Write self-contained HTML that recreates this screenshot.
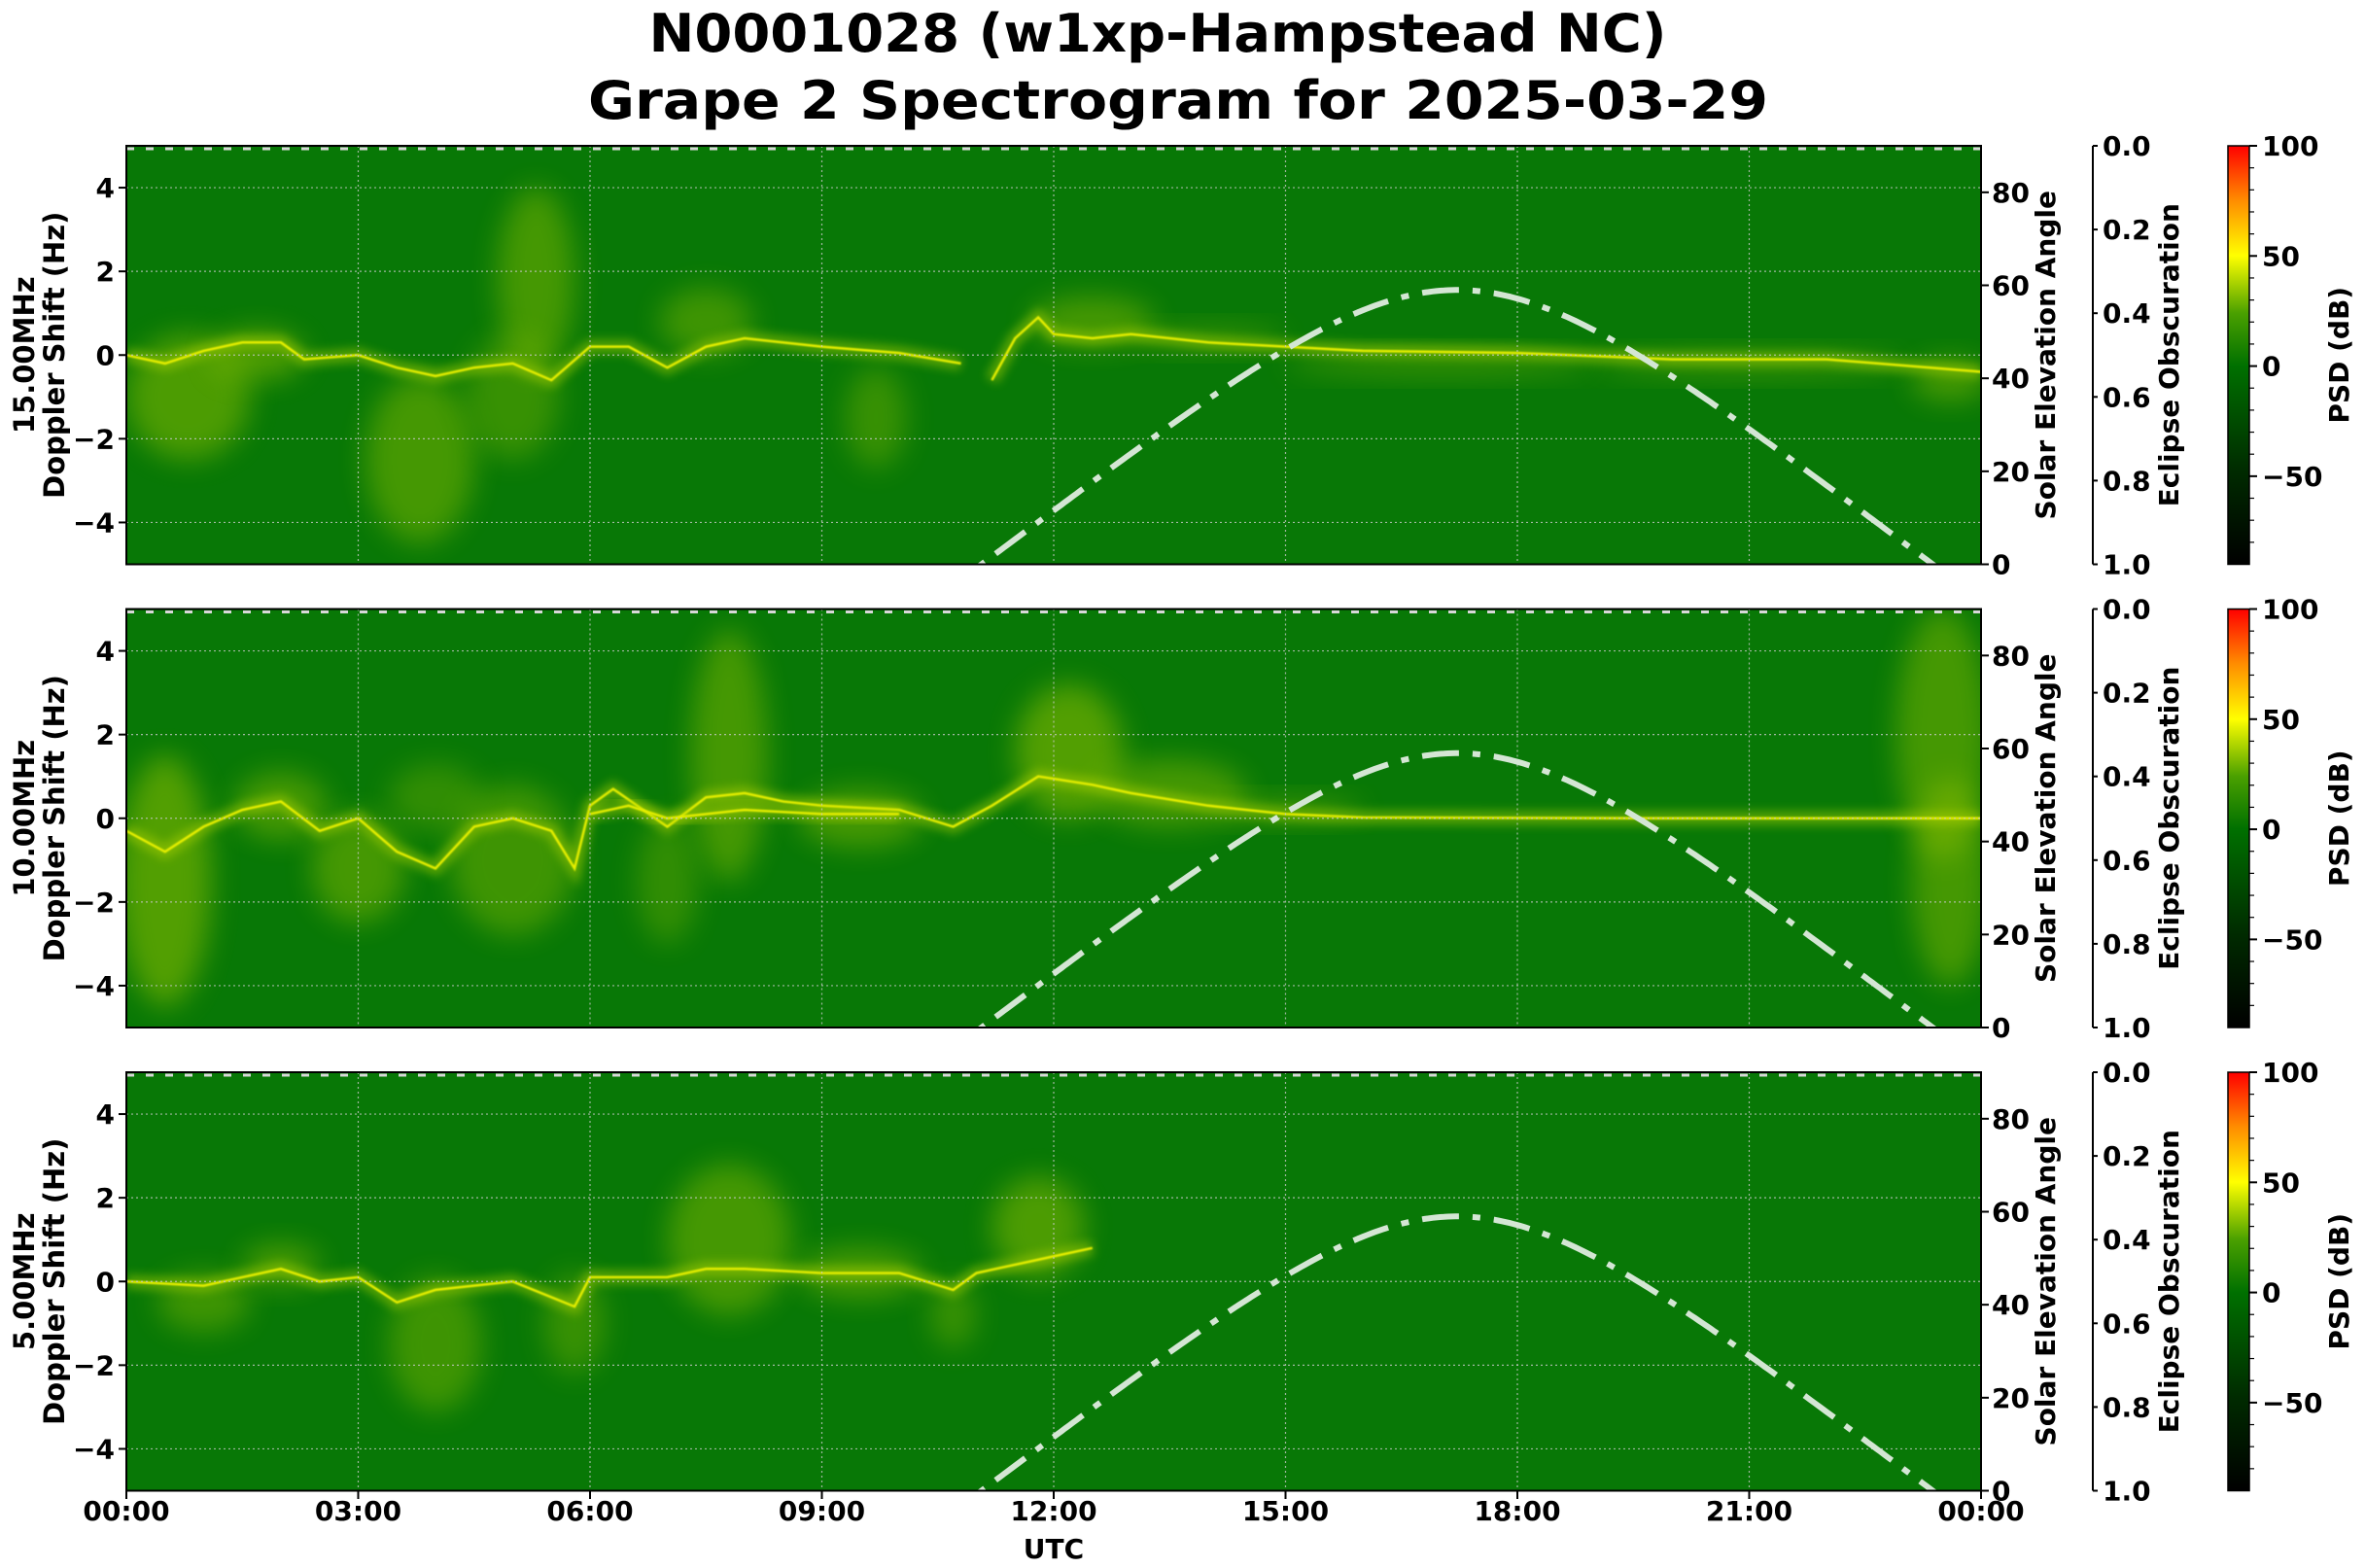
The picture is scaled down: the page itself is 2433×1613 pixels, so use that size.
<!DOCTYPE html>
<html><head><meta charset="utf-8">
<style>
html,body{margin:0;padding:0;background:#fff;}
svg{display:block;font-family:"DejaVu Sans","Liberation Sans",sans-serif;font-weight:bold;}
</style></head>
<body>
<svg id="s" width="2433" height="1613" viewBox="0 0 2433 1613" xmlns="http://www.w3.org/2000/svg">
<defs>
<filter id="b1" x="-50%" y="-50%" width="200%" height="200%"><feGaussianBlur stdDeviation="14"/></filter>
<filter id="b2" x="-50%" y="-50%" width="200%" height="200%"><feGaussianBlur stdDeviation="5"/></filter>
<filter id="b0" x="-50%" y="-50%" width="200%" height="200%"><feGaussianBlur stdDeviation="0.8"/></filter>
<linearGradient id="cb" x1="0" y1="1" x2="0" y2="0">
<stop offset="0" stop-color="#000000"/>
<stop offset="0.22" stop-color="#002a00"/>
<stop offset="0.474" stop-color="#007000"/>
<stop offset="0.6" stop-color="#4aa000"/>
<stop offset="0.737" stop-color="#ffff00"/>
<stop offset="0.87" stop-color="#ff8c00"/>
<stop offset="1" stop-color="#ff0000"/>
</linearGradient>
<clipPath id="c0"><rect x="130" y="150" width="1908" height="430"/></clipPath>
<clipPath id="c1"><rect x="130" y="626.5" width="1908" height="430.5"/></clipPath>
<clipPath id="c2"><rect x="130" y="1103" width="1908" height="431"/></clipPath>
</defs>
<text x="1191" y="53" font-size="54" text-anchor="middle" textLength="1047" lengthAdjust="spacingAndGlyphs">N0001028 (w1xp-Hampstead NC)</text>
<text x="1212" y="122" font-size="54" text-anchor="middle" textLength="1214" lengthAdjust="spacingAndGlyphs">Grape 2 Spectrogram for 2025-03-29</text>
<g id="g"></g>
<text x="1084" y="1603" font-size="28" text-anchor="middle">UTC</text>
</svg>
<script>
var NS="http://www.w3.org/2000/svg",G=document.getElementById('g');
function el(t,a,txt){var e=document.createElementNS(NS,t);for(var k in a)e.setAttribute(k,a[k]);if(txt!=null)e.textContent=txt;return e;}
var X0=130,W=1908,tops=[150,626.5,1103],H=430.5;
var names=["15.00MHz","10.00MHz","5.00MHz"];
function X(t){return X0+t*W/24;}
var traces=[
 [[[0,0],[0.5,-0.2],[1,0.1],[1.5,0.3],[2,0.3],[2.3,-0.1],[3,0],[3.5,-0.3],[4,-0.5],[4.5,-0.3],[5,-0.2],[5.5,-0.6],[6,0.2],[6.5,0.2],[7,-0.3],[7.5,0.2],[8,0.4],[9,0.2],[10,0.05],[10.8,-0.2]],
  [[11.2,-0.6],[11.5,0.4],[11.8,0.9],[12,0.5],[12.5,0.4],[13,0.5],[14,0.3],[15,0.2],[16,0.1],[18,0.05],[20,-0.1],[22,-0.1],[24,-0.4]]],
 [[[0,-0.3],[0.5,-0.8],[1,-0.2],[1.5,0.2],[2,0.4],[2.5,-0.3],[3,0],[3.5,-0.8],[4,-1.2],[4.5,-0.2],[5,0],[5.5,-0.3],[5.8,-1.2],[6,0.3],[6.3,0.7],[7,-0.2],[7.5,0.5],[8,0.6],[8.5,0.4],[9,0.3],[10,0.2],[10.7,-0.2],[11.2,0.3],[11.8,1.0],[12.5,0.8],[13,0.6],[14,0.3],[15,0.1],[16,0.02],[20,0],[24,0]],
  [[6,0.1],[6.5,0.3],[7,0],[8,0.2],[9,0.1],[10,0.1]]],
 [[[0,0],[1,-0.1],[2,0.3],[2.5,0],[3,0.1],[3.5,-0.5],[4,-0.2],[5,0],[5.8,-0.6],[6,0.1],[7,0.1],[7.5,0.3],[8,0.3],[9,0.2],[10,0.2],[10.7,-0.2],[11,0.2],[12,0.6],[12.5,0.8]]]
];
var haze=[
 [[0.8,-1,0.8,1.5,.5],[1.7,0,0.6,0.6,.5],[3.8,-2.5,0.7,2,.45],[5.3,1.8,0.5,2.2,.45],[5,-1,0.6,1.5,.35],[7.5,0.8,0.6,0.8,.4],[9.7,-1.5,0.4,1.2,.35],[12.5,0.8,0.8,0.6,.45],[14,0.4,1,0.3,.3],[17,-0.2,2,0.3,.35],[21,-0.2,2,0.3,.35],[23.6,-0.6,0.5,0.5,.45]],
 [[0.5,-1.5,0.6,3,.55],[2,0.3,0.6,0.8,.45],[3,-1.2,0.6,1.3,.45],[5,-1,0.8,1.8,.4],[7.8,1.5,0.5,3,.45],[7,-1.5,0.4,1.5,.3],[9.5,0,0.8,0.7,.45],[12.2,1.6,0.7,1.6,.55],[13.5,0.6,1,0.8,.45],[15,0.2,1,0.3,.35],[23.5,2,0.6,3,.45],[23.6,-1.5,0.5,2.5,.45],[4,0.5,0.6,0.8,.3]],
 [[1,-0.5,0.6,0.7,.4],[2,0.4,0.5,0.5,.45],[4,-1.5,0.6,1.6,.4],[5.8,-1,0.4,1.2,.35],[7.8,1,0.8,1.8,.45],[9.5,0.2,0.8,0.6,.45],[11.8,1.3,0.6,1.2,.5],[10.7,-0.8,0.3,0.8,.35]]
];
for(var p=0;p<3;p++){
 var T=tops[p],B=T+H,Y=function(f){return T+(5-f)*H/10;};
 var g=el('g',{'clip-path':'url(#c'+p+')'});G.appendChild(g);
 g.appendChild(el('rect',{x:X0,y:T,width:W,height:H,fill:'#087806'}));
 haze[p].forEach(function(h){g.appendChild(el('ellipse',{cx:X(h[0]),cy:Y(h[1]),rx:h[2]*W/24,ry:h[3]*H/10,fill:'#8fc000',opacity:h[4],filter:'url(#b1)'}));});
 traces[p].forEach(function(tr){
  var d=tr.map(function(q,i){return (i?'L':'M')+X(q[0]).toFixed(1)+' '+Y(q[1]).toFixed(1);}).join(' ');
  g.appendChild(el('path',{d:d,fill:'none',stroke:'#b8d800',"stroke-width":14,opacity:.45,filter:'url(#b2)'}));
  g.appendChild(el('path',{d:d,fill:'none',stroke:'#e8f000',"stroke-width":2.5,filter:'url(#b0)'}));
 });
 for(var t=3;t<24;t+=3)g.appendChild(el('line',{x1:X(t),x2:X(t),y1:T,y2:B,stroke:'#c8c8c8','stroke-width':1.2,'stroke-dasharray':'2 3',opacity:.8}));
 for(var f=-4;f<=4;f+=2)g.appendChild(el('line',{x1:X0,x2:X0+W,y1:Y(f),y2:Y(f),stroke:'#c8c8c8','stroke-width':1.2,'stroke-dasharray':'2 3',opacity:.8}));
 g.appendChild(el('line',{x1:X0,x2:X0+W,y1:T+3,y2:T+3,stroke:'#d8d8d8','stroke-width':3,'stroke-dasharray':'8 12'}));
 var pts=[];
 for(var t=10.5;t<=24.2;t+=0.05){var Hh=(t-17.22)*15*Math.PI/180;var s=0.0335+0.8236*Math.cos(Hh);var e=Math.asin(s)*180/Math.PI;pts.push(X(t).toFixed(1)+','+(B-e*H/90).toFixed(1));}
 g.appendChild(el('polyline',{points:pts.join(' '),fill:'none',stroke:'#d4e6d4','stroke-width':6,'stroke-dasharray':'38 14 8 14'}));
 G.appendChild(el('rect',{x:X0,y:T,width:W,height:H,fill:'none',stroke:'#000','stroke-width':2}));
 for(var f=-4;f<=4;f+=2){var yy=Y(f);G.appendChild(el('line',{x1:X0-8,x2:X0,y1:yy,y2:yy,stroke:'#000','stroke-width':2}));
  G.appendChild(el('text',{x:118,y:yy+10,'font-size':28,'text-anchor':'end'},f<0?'\u2212'+(-f):''+f));}
 var cy=T+H/2;
 G.appendChild(el('text',{x:0,y:0,'font-size':29,'text-anchor':'middle',transform:'translate(35,'+cy+') rotate(-90)'},names[p]));
 G.appendChild(el('text',{x:0,y:0,'font-size':29,'text-anchor':'middle',transform:'translate(66,'+cy+') rotate(-90)'},'Doppler Shift (Hz)'));
 for(var a=0;a<=80;a+=20){var yy=B-a*H/90;G.appendChild(el('line',{x1:X0+W,x2:X0+W+8,y1:yy,y2:yy,stroke:'#000','stroke-width':2}));
  G.appendChild(el('text',{x:2049,y:yy+10,'font-size':28},''+a));}
 G.appendChild(el('text',{x:0,y:0,'font-size':28,'text-anchor':'middle',transform:'translate(2114,'+cy+') rotate(-90)'},'Solar Elevation Angle'));
 G.appendChild(el('line',{x1:2153,x2:2153,y1:T,y2:B,stroke:'#000','stroke-width':2}));
 for(var k=0;k<=5;k++){var yy=T+k*H/5;G.appendChild(el('line',{x1:2153,x2:2158,y1:yy,y2:yy,stroke:'#000','stroke-width':2}));
  G.appendChild(el('text',{x:2163,y:yy+10,'font-size':28},(k/5).toFixed(1)));}
 G.appendChild(el('text',{x:0,y:0,'font-size':28,'text-anchor':'middle',transform:'translate(2241,'+cy+') rotate(-90)'},'Eclipse Obscuration'));
 G.appendChild(el('rect',{x:2292,y:T,width:22,height:H,fill:'url(#cb)',stroke:'#000','stroke-width':1.5}));
 for(var v=-80;v<=100;v+=10){var yy=T+(100-v)*H/190;var maj=(v%50==0);
  G.appendChild(el('line',{x1:2314,x2:2314+(maj?8:5),y1:yy,y2:yy,stroke:'#000','stroke-width':maj?2:1.2}));
  if(maj)G.appendChild(el('text',{x:2327,y:yy+10,'font-size':28},v<0?'\u2212'+(-v):''+v));}
 G.appendChild(el('text',{x:0,y:0,'font-size':28,'text-anchor':'middle',transform:'translate(2416,'+cy+') rotate(-90)'},'PSD (dB)'));
}
var labs=['00:00','03:00','06:00','09:00','12:00','15:00','18:00','21:00','00:00'];
for(var i=0;i<=8;i++){var xx=X(i*3);G.appendChild(el('line',{x1:xx,x2:xx,y1:1534,y2:1542,stroke:'#000','stroke-width':2}));
 G.appendChild(el('text',{x:xx,y:1564,'font-size':28,'text-anchor':'middle'},labs[i]));}
</script>
</body></html>
